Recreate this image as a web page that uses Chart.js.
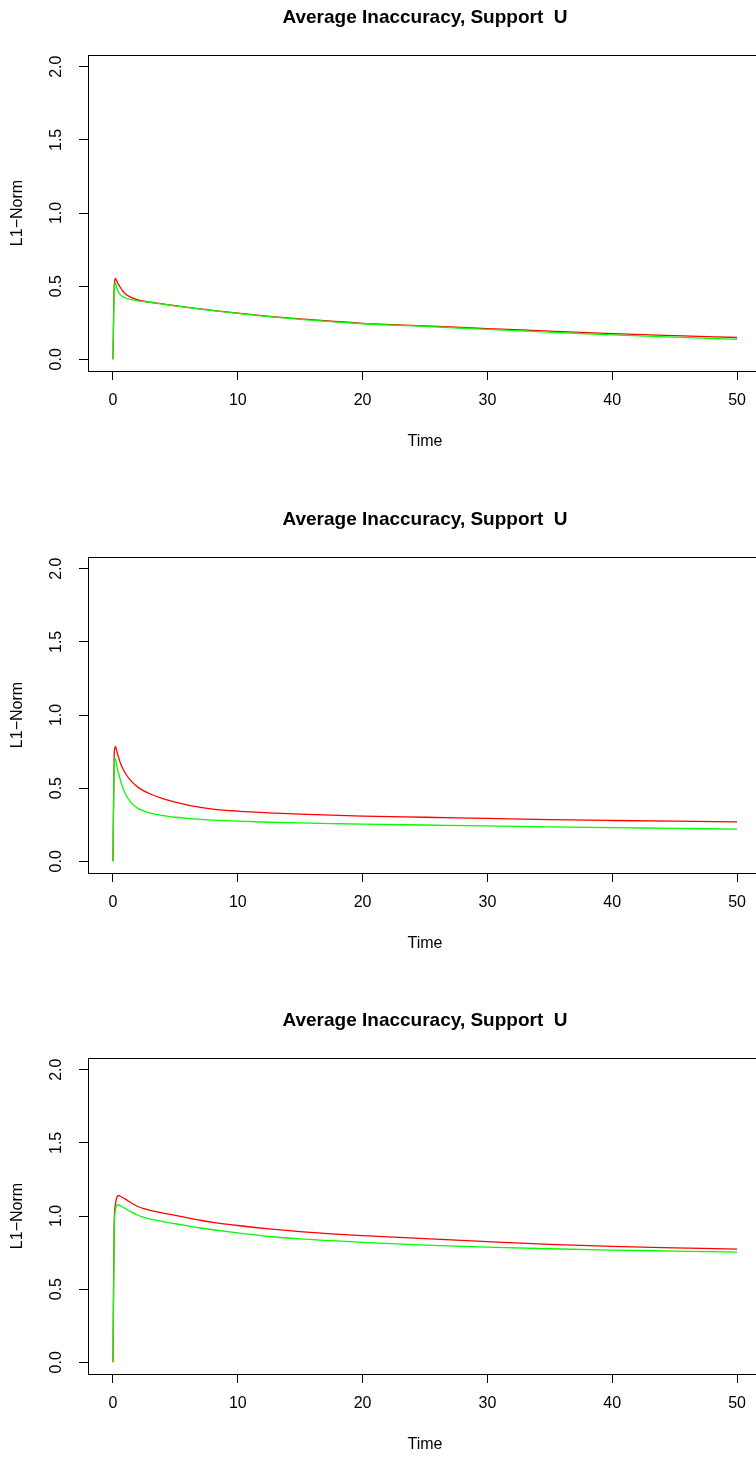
<!DOCTYPE html>
<html>
<head>
<meta charset="utf-8">
<script src="https://cdn.jsdelivr.net/npm/chart.js@4"></script>
<style>
  html,body{margin:0;padding:0;background:#fff;}
  body{width:756px;height:1458px;overflow:hidden;position:relative;}
  canvas{position:absolute;left:0;}
</style>
</head>
<body>
<canvas id="c1" width="800" height="480" style="top:0px"></canvas>
<canvas id="c2" width="800" height="480" style="top:502px"></canvas>
<canvas id="c3" width="800" height="480" style="top:1003px"></canvas>
<script>
// data
const TIME = [0,0.1,0.2,0.3,0.45,0.6,0.8,1,1.5,2,2.5,3,4,5,6,7,8,10,12.5,15,17.5,20,25,30,35,40,45,50];
const RED_1 = [0,0.5,0.553,0.535,0.51,0.49,0.465,0.447,0.422,0.407,0.397,0.39,0.378,0.366,0.355,0.344,0.334,0.315,0.294,0.276,0.26,0.246,0.228,0.21,0.192,0.176,0.162,0.149];
const GREEN_1 = [0,0.47,0.522,0.49,0.458,0.44,0.428,0.419,0.408,0.4,0.394,0.389,0.377,0.365,0.354,0.343,0.333,0.314,0.292,0.273,0.257,0.243,0.225,0.204,0.185,0.167,0.151,0.136];
const RED_2 = [0,0.74,0.785,0.755,0.71,0.67,0.632,0.6,0.545,0.507,0.48,0.46,0.428,0.405,0.384,0.369,0.357,0.343,0.331,0.322,0.315,0.309,0.301,0.293,0.285,0.279,0.274,0.27];
const GREEN_2 = [0,0.66,0.7,0.655,0.6,0.555,0.5,0.46,0.396,0.362,0.343,0.329,0.312,0.301,0.293,0.287,0.282,0.274,0.267,0.262,0.258,0.254,0.248,0.242,0.235,0.23,0.225,0.22];
const RED_3 = [0,0.95,1.08,1.125,1.14,1.135,1.125,1.115,1.087,1.065,1.05,1.038,1.02,1.004,0.987,0.971,0.957,0.935,0.912,0.893,0.878,0.866,0.845,0.825,0.806,0.792,0.782,0.774];
const GREEN_3 = [0,0.9,1.04,1.07,1.077,1.07,1.06,1.05,1.026,1.005,0.99,0.978,0.962,0.947,0.932,0.918,0.906,0.885,0.86,0.843,0.831,0.82,0.801,0.787,0.776,0.767,0.76,0.753];
const X_TICKS = [0,10,20,30,40,50];
const Y_TICKS = [0,0.5,1,1.5,2];
const TITLE = "Average Inaccuracy, Support  U";
const X_LABEL = "Time";
const Y_LABEL = "L1\u2212Norm";

const FONT = "'Liberation Sans', Arial, Helvetica, sans-serif";
const pts = ys => TIME.map((t,i)=>({x:t,y:ys[i]}));

// title, y tick labels (rotated like R) and the full box
const rDecor = {
  id: "rDecor",
  afterDraw(chart){
    const {ctx, chartArea:a, scales} = chart;
    ctx.save();
    ctx.strokeStyle = "#000"; ctx.lineWidth = 1;
    ctx.strokeRect(Math.round(a.left)+0.5, Math.round(a.top)+0.5, Math.round(a.right-a.left), Math.round(a.bottom-a.top));
    ctx.fillStyle = "#000";
    ctx.font = "bold 19px " + FONT;
    ctx.textAlign = "center"; ctx.textBaseline = "middle";
    ctx.fillText(TITLE, (a.left+a.right)/2, 18);
    ctx.font = "16px " + FONT;
    for (const v of Y_TICKS) {
      const y = scales.y.getPixelForValue(v);
      ctx.save(); ctx.translate(57, y); ctx.rotate(-Math.PI/2);
      ctx.fillText(v.toFixed(1), 0, 0);
      ctx.restore();
    }
    ctx.restore();
  }
};

function makeChart(id, red, green){
  const line = (ys, col, ord) => ({data: pts(ys), borderColor: col, borderWidth: 1.3, pointRadius: 0, cubicInterpolationMode: "monotone", order: ord});
  return new Chart(document.getElementById(id).getContext("2d"), {
    type: "line",
    data: { datasets: [ line(red, "#ff0000", 2), line(green, "#00ff00", 1) ] },
    options: {
      responsive: false, animation: false, devicePixelRatio: 1,
      layout: { padding: {top: 55, right: 38, left: 0, bottom: 0} },
      plugins: { legend: {display: false}, tooltip: {enabled: false}, title: {display: false} },
      scales: {
        x: {
          type: "linear", min: -2, max: 52,
          afterBuildTicks: s => { s.ticks = X_TICKS.map(v=>({value:v})); },
          afterFit: s => { s.height = 109; },
          border: {display: false},
          grid: {drawOnChartArea: false, drawTicks: true, tickLength: 9, color: "#000"},
          ticks: {color: "#000", padding: 11, maxRotation: 0, font: {family: FONT, size: 16}},
          title: {display: true, text: X_LABEL, color: "#000", padding: {top: 0, bottom: 29}, font: {family: FONT, size: 16}}
        },
        y: {
          type: "linear", min: -0.08, max: 2.08,
          afterBuildTicks: s => { s.ticks = Y_TICKS.map(v=>({value:v})); },
          afterFit: s => { s.width = 88; },
          border: {display: false},
          grid: {drawOnChartArea: false, drawTicks: true, tickLength: 9, color: "#000"},
          ticks: {display: false},
          title: {display: true, text: Y_LABEL, color: "#000", padding: {top: 8, bottom: 0}, font: {family: FONT, size: 16}}
        }
      }
    },
    plugins: [rDecor]
  });
}

makeChart("c1", RED_1, GREEN_1);
makeChart("c2", RED_2, GREEN_2);
makeChart("c3", RED_3, GREEN_3);
</script>
</body>
</html>
